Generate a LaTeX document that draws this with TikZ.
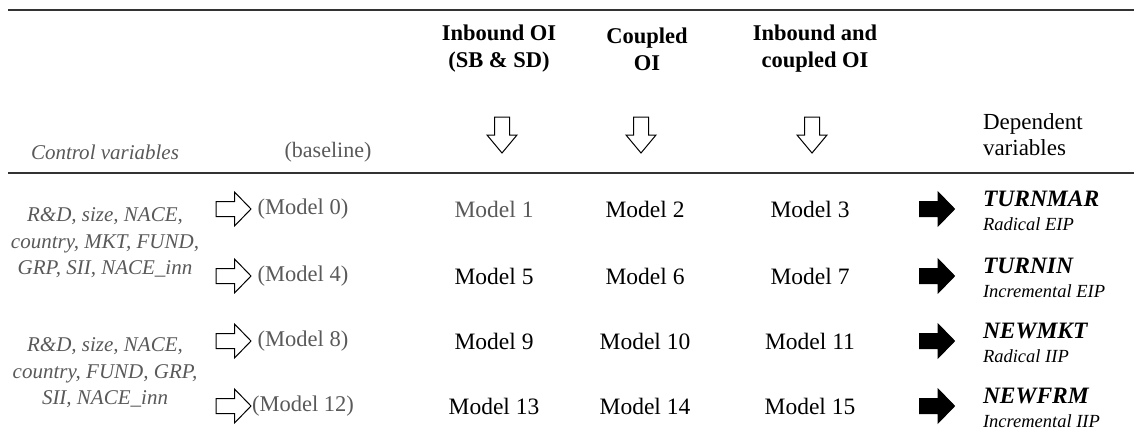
\documentclass[tikz,border=0pt]{standalone}
\usepackage{fontspec}
\setmainfont{Liberation Serif}
\definecolor{txtgray}{HTML}{595959}
\begin{document}
\begin{tikzpicture}[x=1pt,y=-1pt,
  every node/.style={inner sep=0pt, outer sep=0pt},
  head/.style={font=\fontsize{22.5}{27}\selectfont\bfseries, align=center},
  plain/.style={font=\fontsize{23.5}{27}\selectfont},
  gr/.style={font=\fontsize{23.5}{27}\selectfont, text=txtgray},
  base/.style={font=\fontsize{22.5}{27}\selectfont, text=txtgray},
  ctrl/.style={font=\fontsize{21}{26.5}\selectfont\itshape, text=txtgray, align=center},
  depv/.style={font=\fontsize{23.5}{26}\selectfont\bfseries\itshape, anchor=west},
  depsub/.style={font=\fontsize{18.5}{20}\selectfont\itshape, anchor=west},
  rule/.style={line width=1.4pt, draw=black!80},
  pics/harrow/.style={code={\draw[line width=1pt, fill=#1] (-17.5,-7.5) -- (1,-7.5) -- (1,-17) -- (17.5,0) -- (1,17) -- (1,7.5) -- (-17.5,7.5) -- cycle;}},
  pics/darrow/.style={code={\draw[line width=1pt, fill=white] (-7.5,-18) -- (7.5,-18) -- (7.5,0) -- (15,0) -- (0,18) -- (-15,0) -- (-7.5,0) -- cycle;}}
]
\useasboundingbox (0,0) rectangle (1134,445);
% rules
\coordinate (t1) at (8,10); \coordinate (t2) at (1134,10);
\coordinate (m1) at (8,173); \coordinate (m2) at (1134,173);
\draw[rule, line width=1.8pt] (t1) -- (t2);
\draw[rule] (m1) -- (m2);
% headers
\node[head] (h1) at (499,49) {Inbound OI\\(SB \& SD)};
\node[head] (h2) at (647,49) {Coupled\\OI};
\node[head] (h3) at (815,49) {Inbound and\\coupled OI};
\pic at (502,135) {darrow};
\pic at (641,135) {darrow};
\pic at (812,135) {darrow};
\node[ctrl, font=\fontsize{21}{26}\selectfont\itshape] (cv) at (105,152) {Control variables};
\node[base, font=\fontsize{22}{26}\selectfont] (bl) at (328,152) {(baseline)};
\node[plain, align=left, anchor=west, font=\fontsize{23}{26}\selectfont] (dv) at (983,135) {Dependent\\variables};
% control lists
\node[ctrl] (c1) at (105,243) {R\&D, size, NACE,\\country, MKT, FUND,\\GRP, SII, NACE\_inn};
\node[ctrl] (c2) at (105,373) {R\&D, size, NACE,\\country, FUND, GRP,\\SII, NACE\_inn};
% rows
\foreach \r/\y/\a/\b/\c/\d/\dep/\sub/\st in {
  1/209/0/1/2/3/TURNMAR/Radical EIP/gr,
  2/276/4/5/6/7/TURNIN/Incremental EIP/plain,
  3/341/8/9/10/11/NEWMKT/Radical IIP/plain,
  4/406/12/13/14/15/NEWFRM/Incremental IIP/plain}{
  \pic at (233.5,\y) {harrow=white};
  \node[base] (m\a) at (303,\y) {(Model \a)};
  \node[\st] (m\b) at (494,\y) {Model \b};
  \node[plain] (m\c) at (645,\y) {Model \c};
  \node[plain] (m\d) at (810,\y) {Model \d};
  \pic at (937,\y) {harrow=black};
  \node[depv] (d\r) at (983,\y-10) {\dep};
  \node[depsub] (s\r) at (983,\y+15) {\sub};
}
\end{tikzpicture}
\end{document}
